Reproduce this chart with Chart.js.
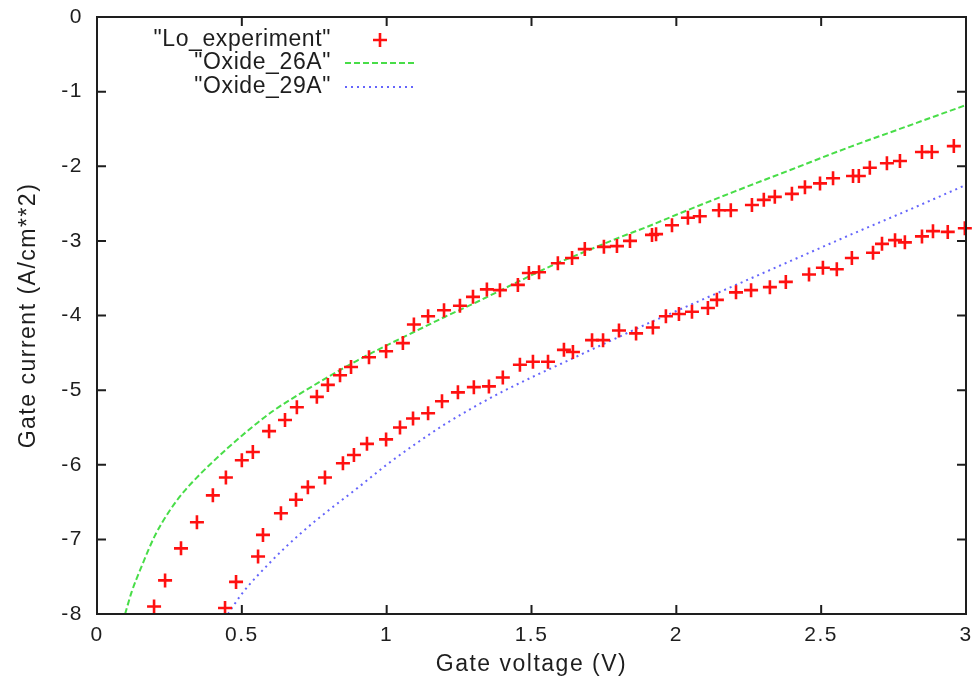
<!DOCTYPE html>
<html>
<head>
  <meta charset="utf-8">
  <title>Gate current vs gate voltage</title>
  <script src="https://cdn.jsdelivr.net/npm/chart.js"></script>
  <style>
    html, body { margin: 0; padding: 0; background: #fff; }
    #wrap { width: 976px; height: 688px; }
  </style>
</head>
<body>
<div id="wrap"><canvas id="gateChart" width="976" height="688"></canvas></div>

<script>
// measured points, thinner oxide (upper branch)
const expUpperV = [0.197, 0.235, 0.290, 0.345, 0.400, 0.445, 0.500, 0.538, 0.594, 0.649,
  0.690, 0.759, 0.797, 0.839, 0.877, 0.939, 0.998, 1.056, 1.094, 1.143,
  1.198, 1.253, 1.298, 1.346, 1.391, 1.453, 1.491, 1.526, 1.591, 1.640,
  1.684, 1.750, 1.795, 1.840, 1.916, 1.930, 1.985, 2.040, 2.081, 2.147,
  2.188, 2.261, 2.302, 2.340, 2.399, 2.444, 2.496, 2.541, 2.610, 2.630,
  2.668, 2.727, 2.772, 2.848, 2.882, 2.958];
const expUpperJ = [-7.90, -7.55, -7.12, -6.77, -6.41, -6.17, -5.94, -5.83, -5.55, -5.40,
  -5.23, -5.09, -4.93, -4.80, -4.69, -4.56, -4.48, -4.37, -4.12, -4.01,
  -3.93, -3.87, -3.75, -3.65, -3.66, -3.59, -3.43, -3.42, -3.30, -3.23,
  -3.11, -3.08, -3.07, -3.00, -2.92, -2.91, -2.79, -2.69, -2.67, -2.59,
  -2.59, -2.52, -2.45, -2.41, -2.37, -2.28, -2.23, -2.16, -2.13, -2.13,
  -2.02, -1.96, -1.93, -1.81, -1.81, -1.73];

// measured points, thicker oxide (lower branch)
const expLowerV = [0.442, 0.480, 0.556, 0.573, 0.635, 0.687, 0.728, 0.787, 0.849, 0.887,
  0.932, 0.998, 1.046, 1.091, 1.143, 1.191, 1.246, 1.301, 1.353, 1.401,
  1.460, 1.505, 1.557, 1.612, 1.643, 1.709, 1.747, 1.802, 1.861, 1.919,
  1.964, 2.009, 2.054, 2.109, 2.140, 2.206, 2.258, 2.323, 2.378, 2.458,
  2.506, 2.554, 2.606, 2.679, 2.710, 2.755, 2.789, 2.848, 2.886, 2.937,
  2.996];
const expLowerJ = [-7.92, -7.57, -7.23, -6.94, -6.65, -6.47, -6.30, -6.17, -5.98, -5.87,
  -5.72, -5.66, -5.50, -5.38, -5.31, -5.15, -5.03, -4.96, -4.95, -4.83,
  -4.66, -4.62, -4.62, -4.46, -4.49, -4.33, -4.33, -4.20, -4.24, -4.16,
  -4.01, -3.98, -3.95, -3.90, -3.79, -3.69, -3.66, -3.62, -3.55, -3.45,
  -3.36, -3.38, -3.23, -3.16, -3.04, -2.99, -3.02, -2.94, -2.87, -2.88,
  -2.83];

// simulated curves
const ox26V = [0.097, 0.12, 0.15, 0.2, 0.25, 0.3, 0.35, 0.4, 0.45, 0.5, 0.55, 0.6, 0.7, 0.8, 0.9, 1.0,
  1.1, 1.2, 1.3, 1.4, 1.5, 1.6, 1.7, 1.8, 1.9, 2.0, 2.2, 2.4, 2.6, 2.8, 3.0];
const ox26J = [-8.0, -7.70, -7.40, -6.95, -6.62, -6.36, -6.15, -5.96, -5.78, -5.61, -5.45, -5.30,
  -5.05, -4.82, -4.60, -4.40, -4.21, -4.02, -3.84, -3.65, -3.46, -3.28, -3.12, -2.96, -2.81,
  -2.65, -2.34, -2.04, -1.74, -1.46, -1.18];

const ox29V = [0.452, 0.5, 0.6, 0.7, 0.8, 0.9, 1.0, 1.1, 1.2, 1.3, 1.4, 1.5, 1.6,
  1.7, 1.8, 1.9, 2.0, 2.2, 2.4, 2.6, 2.8, 3.0];
const ox29J = [-8.0, -7.73, -7.30, -6.93, -6.61, -6.31, -6.00, -5.72, -5.46, -5.23, -5.02, -4.83,
  -4.65, -4.47, -4.29, -4.11, -3.94, -3.60, -3.26, -2.92, -2.59, -2.25];

const xTicks = [0, 0.5, 1, 1.5, 2, 2.5, 3];
const yTicks = [-8, -7, -6, -5, -4, -3, -2, -1, 0];

const toPts = (xs, ys) => xs.map((x, i) => ({ x: x, y: ys[i] }));
const FONT = "'Liberation Sans', Arial, sans-serif";
const INK = "#1e1e1e";

// the gnuplot text is set a little looser than the canvas default
const looseText = {
  id: "looseText",
  beforeLayout(chart) { chart.ctx.letterSpacing = "1.5px"; },
  beforeDraw(chart) { chart.ctx.letterSpacing = "1.5px"; }
};

// gnuplot style frame: full box, ticks pointing inward on all four sides, legend top-left
const gnuplotFrame = {
  id: "gnuplotFrame",
  afterDraw(chart) {
    const { ctx, chartArea: a, scales } = chart;
    ctx.save();
    ctx.strokeStyle = INK;
    ctx.lineWidth = 2;
    ctx.strokeRect(a.left, a.top, a.right - a.left, a.bottom - a.top);
    const tl = 9;
    ctx.beginPath();
    xTicks.forEach(v => {
      const px = scales.x.getPixelForValue(v);
      ctx.moveTo(px, a.bottom); ctx.lineTo(px, a.bottom - tl);
      ctx.moveTo(px, a.top); ctx.lineTo(px, a.top + tl);
    });
    yTicks.forEach(v => {
      const py = scales.y.getPixelForValue(v);
      ctx.moveTo(a.left, py); ctx.lineTo(a.left + tl, py);
      ctx.moveTo(a.right, py); ctx.lineTo(a.right - tl, py);
    });
    ctx.stroke();

    // legend
    ctx.font = "23px " + FONT;
    ctx.letterSpacing = "0.6px";
    ctx.textAlign = "right";
    ctx.textBaseline = "middle";
    const textX = 331, s0 = 345, s1 = 415;
    const rows = [40, 63, 87];
    chart.data.datasets.forEach((ds, i) => {
      const y = rows[i];
      ctx.fillStyle = INK;
      ctx.fillText('"' + ds.label + '"', textX, y);
      ctx.strokeStyle = ds.borderColor;
      if (ds.showLine === false) {
        ctx.lineWidth = ds.pointBorderWidth;
        ctx.setLineDash([]);
        const cx = (s0 + s1) / 2, r = ds.pointRadius;
        ctx.beginPath();
        ctx.moveTo(cx - r, y); ctx.lineTo(cx + r, y);
        ctx.moveTo(cx, y - r); ctx.lineTo(cx, y + r);
        ctx.stroke();
      } else {
        ctx.lineWidth = ds.borderWidth;
        ctx.setLineDash(ds.borderDash);
        ctx.beginPath();
        ctx.moveTo(s0, y); ctx.lineTo(s1, y);
        ctx.stroke();
      }
    });
    ctx.restore();
  }
};

new Chart(document.getElementById("gateChart"), {
  type: "scatter",
  data: {
    datasets: [
      {
        label: "Lo_experiment",
        data: toPts(expUpperV, expUpperJ).concat(toPts(expLowerV, expLowerJ)),
        showLine: false,
        pointStyle: "cross",
        pointRadius: 7,
        pointBorderWidth: 2.6,
        borderColor: "#ff1010",
        backgroundColor: "#ff1010",
        clip: false
      },
      {
        label: "Oxide_26A",
        data: toPts(ox26V, ox26J),
        showLine: true,
        pointRadius: 0,
        borderColor: "rgba(40,215,40,0.85)",
        borderWidth: 2,
        borderDash: [6, 3],
        cubicInterpolationMode: "monotone",
        fill: false
      },
      {
        label: "Oxide_29A",
        data: toPts(ox29V, ox29J),
        showLine: true,
        pointRadius: 0,
        borderColor: "rgba(50,50,250,0.75)",
        borderWidth: 2,
        borderDash: [2, 4],
        cubicInterpolationMode: "monotone",
        fill: false
      }
    ]
  },
  options: {
    responsive: false,
    animation: false,
    events: [],
    layout: { padding: { top: 17, right: 10, bottom: 0, left: 0 } },
    plugins: { legend: { display: false }, tooltip: { enabled: false } },
    scales: {
      x: {
        type: "linear",
        min: 0, max: 3,
        afterBuildTicks: s => { s.ticks = xTicks.map(v => ({ value: v })); },
        afterFit: s => { s.height = 74; s.paddingLeft = 0; s.paddingRight = 0; },
        grid: { display: false, drawTicks: false },
        border: { display: false },
        ticks: { color: INK, font: { family: FONT, size: 21 }, padding: 9, maxRotation: 0,
                 callback: v => String(v) },
        title: { display: true, text: "Gate voltage (V)", color: INK,
                 font: { family: FONT, size: 23 }, padding: { top: 0, bottom: 10 } }
      },
      y: {
        type: "linear",
        min: -8, max: 0,
        afterBuildTicks: s => { s.ticks = yTicks.map(v => ({ value: v })); },
        afterFit: s => { s.width = 97; s.paddingTop = 0; s.paddingBottom = 0; },
        grid: { display: false, drawTicks: false },
        border: { display: false },
        ticks: { color: INK, font: { family: FONT, size: 21 }, padding: 14,
                 callback: v => String(v) },
        title: { display: true, text: "Gate current (A/cm**2)", color: INK,
                 font: { family: FONT, size: 23 }, padding: { top: 15, bottom: 0 } }
      }
    }
  },
  plugins: [looseText, gnuplotFrame]
});
</script>
</body>
</html>
